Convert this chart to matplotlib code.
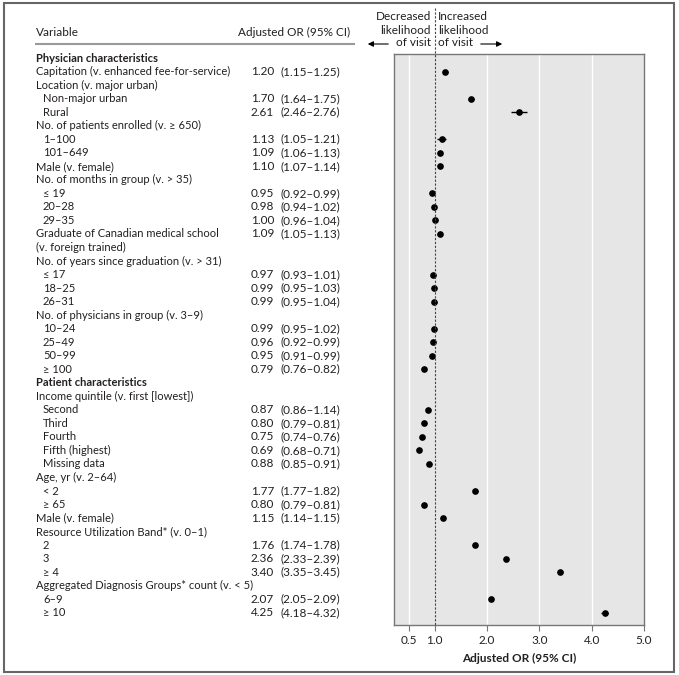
import matplotlib
matplotlib.use('Agg')
import matplotlib.pyplot as plt
from matplotlib.transforms import blended_transform_factory
from matplotlib.patches import Rectangle, FancyArrowPatch
from matplotlib.lines import Line2D

plt.rcParams['font.family'] = ['Lato', 'DejaVu Sans']

# rows of the table (level 0 = section, 1 = variable, 2 = category)
labels = [
    "Physician characteristics",
    "Capitation (v. enhanced fee-for-service)",
    "Location (v. major urban)",
    "Non-major urban",
    "Rural",
    "No. of patients enrolled (v. \u2265 650)",
    "1\u2013100",
    "101\u2013649",
    "Male (v. female)",
    "No. of months in group (v. > 35)",
    "\u2264 19",
    "20\u201328",
    "29\u201335",
    "Graduate of Canadian medical school",
    "(v. foreign trained)",
    "No. of years since graduation (v. > 31)",
    "\u2264 17",
    "18\u201325",
    "26\u201331",
    "No. of physicians in group (v. 3\u20139)",
    "10\u201324",
    "25\u201349",
    "50\u201399",
    "\u2265 100",
    "Patient characteristics",
    "Income quintile (v. first [lowest])",
    "Second",
    "Third",
    "Fourth",
    "Fifth (highest)",
    "Missing data",
    "Age, yr (v. 2\u201364)",
    "< 2",
    "\u2265 65",
    "Male (v. female)",
    "Resource Utilization Band* (v. 0\u20131)",
    "2",
    "3",
    "\u2265 4",
    "Aggregated Diagnosis Groups* count (v. < 5)",
    "6\u20139",
    "\u2265 10",
]
levels = [0, 1, 1, 2, 2, 1, 2, 2, 1, 1, 2, 2, 2, 1, 1, 1, 2, 2, 2, 1, 2, 2, 2, 2,
          0, 1, 2, 2, 2, 2, 2, 1, 2, 2, 1, 1, 2, 2, 2, 1, 2, 2]
odds = [None, 1.20, None, 1.70, 2.61, None, 1.13, 1.09, 1.10, None, 0.95, 0.98, 1.00,
        1.09, None, None, 0.97, 0.99, 0.99, None, 0.99, 0.96, 0.95, 0.79,
        None, None, 0.87, 0.80, 0.75, 0.69, 0.88, None, 1.77, 0.80, 1.15, None,
        1.76, 2.36, 3.40, None, 2.07, 4.25]
ci_lo = [None, 1.15, None, 1.64, 2.46, None, 1.05, 1.06, 1.07, None, 0.92, 0.94, 0.96,
         1.05, None, None, 0.93, 0.95, 0.95, None, 0.95, 0.92, 0.91, 0.76,
         None, None, 0.86, 0.79, 0.74, 0.68, 0.85, None, 1.77, 0.79, 1.14, None,
         1.74, 2.33, 3.35, None, 2.05, 4.18]
ci_hi = [None, 1.25, None, 1.75, 2.76, None, 1.21, 1.13, 1.14, None, 0.99, 1.02, 1.04,
         1.13, None, None, 1.01, 1.03, 1.04, None, 1.02, 0.99, 0.99, 0.82,
         None, None, 1.14, 0.81, 0.76, 0.71, 0.91, None, 1.82, 0.81, 1.15, None,
         1.78, 2.39, 3.45, None, 2.09, 4.32]
# upper ends as drawn in the plot (the "Second" bar ends near 0.88, not at the printed 1.14)
ci_hi_drawn = [None, 1.25, None, 1.75, 2.76, None, 1.21, 1.13, 1.14, None, 0.99, 1.02, 1.04,
               1.13, None, None, 1.01, 1.03, 1.04, None, 1.02, 0.99, 0.99, 0.82,
               None, None, 0.88, 0.81, 0.76, 0.71, 0.91, None, 1.82, 0.81, 1.15, None,
               1.78, 2.39, 3.45, None, 2.09, 4.32]
xticks = [0.5, 1.0, 2.0, 3.0, 4.0, 5.0]
xtick_labels = ["0.5", "1.0", "2.0", "3.0", "4.0", "5.0"]

W, H = 679, 675
txt = '#231f20'
fs = 8
fs_num = 8.5


def fx(px):
    return px / W


def fy(py):
    return 1 - py / H


fig = plt.figure(figsize=(W / 100, H / 100), dpi=100)
ax = fig.add_axes([fx(394), fy(625), fx(644) - fx(394), fy(54) - fy(625)])
ax.set_facecolor('#e6e6e6')
ax.set_xlim(0.22, 5.0)
ax.set_ylim(41.9, -0.3)

for g in [0.5, 2, 3, 4]:
    ax.axvline(g, color='white', lw=1, zorder=1)

ys = [i for i, v in enumerate(odds) if v is not None]
xs = [odds[i] for i in ys]
lo = [odds[i] - ci_lo[i] for i in ys]
hi = [ci_hi_drawn[i] - odds[i] for i in ys]
ax.errorbar(xs, ys, xerr=[lo, hi], fmt='o', color='black', ms=3.8,
            elinewidth=1, capsize=0, zorder=3)

ax.set_xticks(xticks)
ax.set_xticklabels(xtick_labels)
ax.set_yticks([])
ax.tick_params(axis='x', length=4, color='#777777', labelsize=fs_num, labelcolor=txt, pad=3)
for s in ax.spines.values():
    s.set_color('#777777')
    s.set_linewidth(1)
ax.set_xlabel("Adjusted OR (95% CI)", fontsize=fs_num, fontweight='bold', color=txt, labelpad=5)

# dashed reference line at OR = 1, running up into the header
dash_tr = blended_transform_factory(ax.transData, fig.transFigure)
fig.add_artist(Line2D([1, 1], [fy(8), fy(625)], transform=dash_tr, color='#444444',
                      lw=0.8, ls=(0, (2, 1.5)), zorder=2))

# table text
tr = blended_transform_factory(fig.transFigure, ax.transData)
for i, lab in enumerate(labels):
    x = 43 if levels[i] == 2 else 36
    ax.text(fx(x), i, lab, transform=tr, va='center', ha='left', fontsize=fs, color=txt,
            fontweight='bold' if levels[i] == 0 else 'normal', clip_on=False)
    if odds[i] is not None:
        ax.text(fx(274), i, f"{odds[i]:.2f}", transform=tr, va='center', ha='right',
                fontsize=fs_num, color=txt, clip_on=False)
        ax.text(fx(340), i, f"({ci_lo[i]:.2f}\u2013{ci_hi[i]:.2f})", transform=tr,
                va='center', ha='right', fontsize=fs_num, color=txt, clip_on=False)

# header
fig.text(fx(36), fy(32), "Variable", va='center', ha='left', fontsize=fs_num, color=txt)
fig.text(fx(350), fy(32), "Adjusted OR (95% CI)", va='center', ha='right', fontsize=fs_num, color=txt)
fig.add_artist(Line2D([fx(36), fx(354)], [fy(44), fy(44)], color='#999999', lw=1.5))

for t, py in zip(["Decreased", "likelihood", "of visit"], [17, 30, 43]):
    fig.text(fx(431), fy(py), t, va='center', ha='right', fontsize=fs_num, color=txt)
for t, py in zip(["Increased", "likelihood", "of visit"], [17, 30, 43]):
    fig.text(fx(438), fy(py), t, va='center', ha='left', fontsize=fs_num, color=txt)
fig.add_artist(FancyArrowPatch((fx(391), fy(44)), (fx(365), fy(44)), transform=fig.transFigure,
                               arrowstyle='-|>', mutation_scale=8, lw=0.8, color='black'))
fig.add_artist(FancyArrowPatch((fx(478), fy(44)), (fx(505), fy(44)), transform=fig.transFigure,
                               arrowstyle='-|>', mutation_scale=8, lw=0.8, color='black'))

# outer frame
fig.add_artist(Rectangle((fx(4), fy(672)), fx(674) - fx(4), fy(3) - fy(672),
                         transform=fig.transFigure, fill=False, ec='#666666', lw=1.5))

fig.savefig('out.png', dpi=100)
